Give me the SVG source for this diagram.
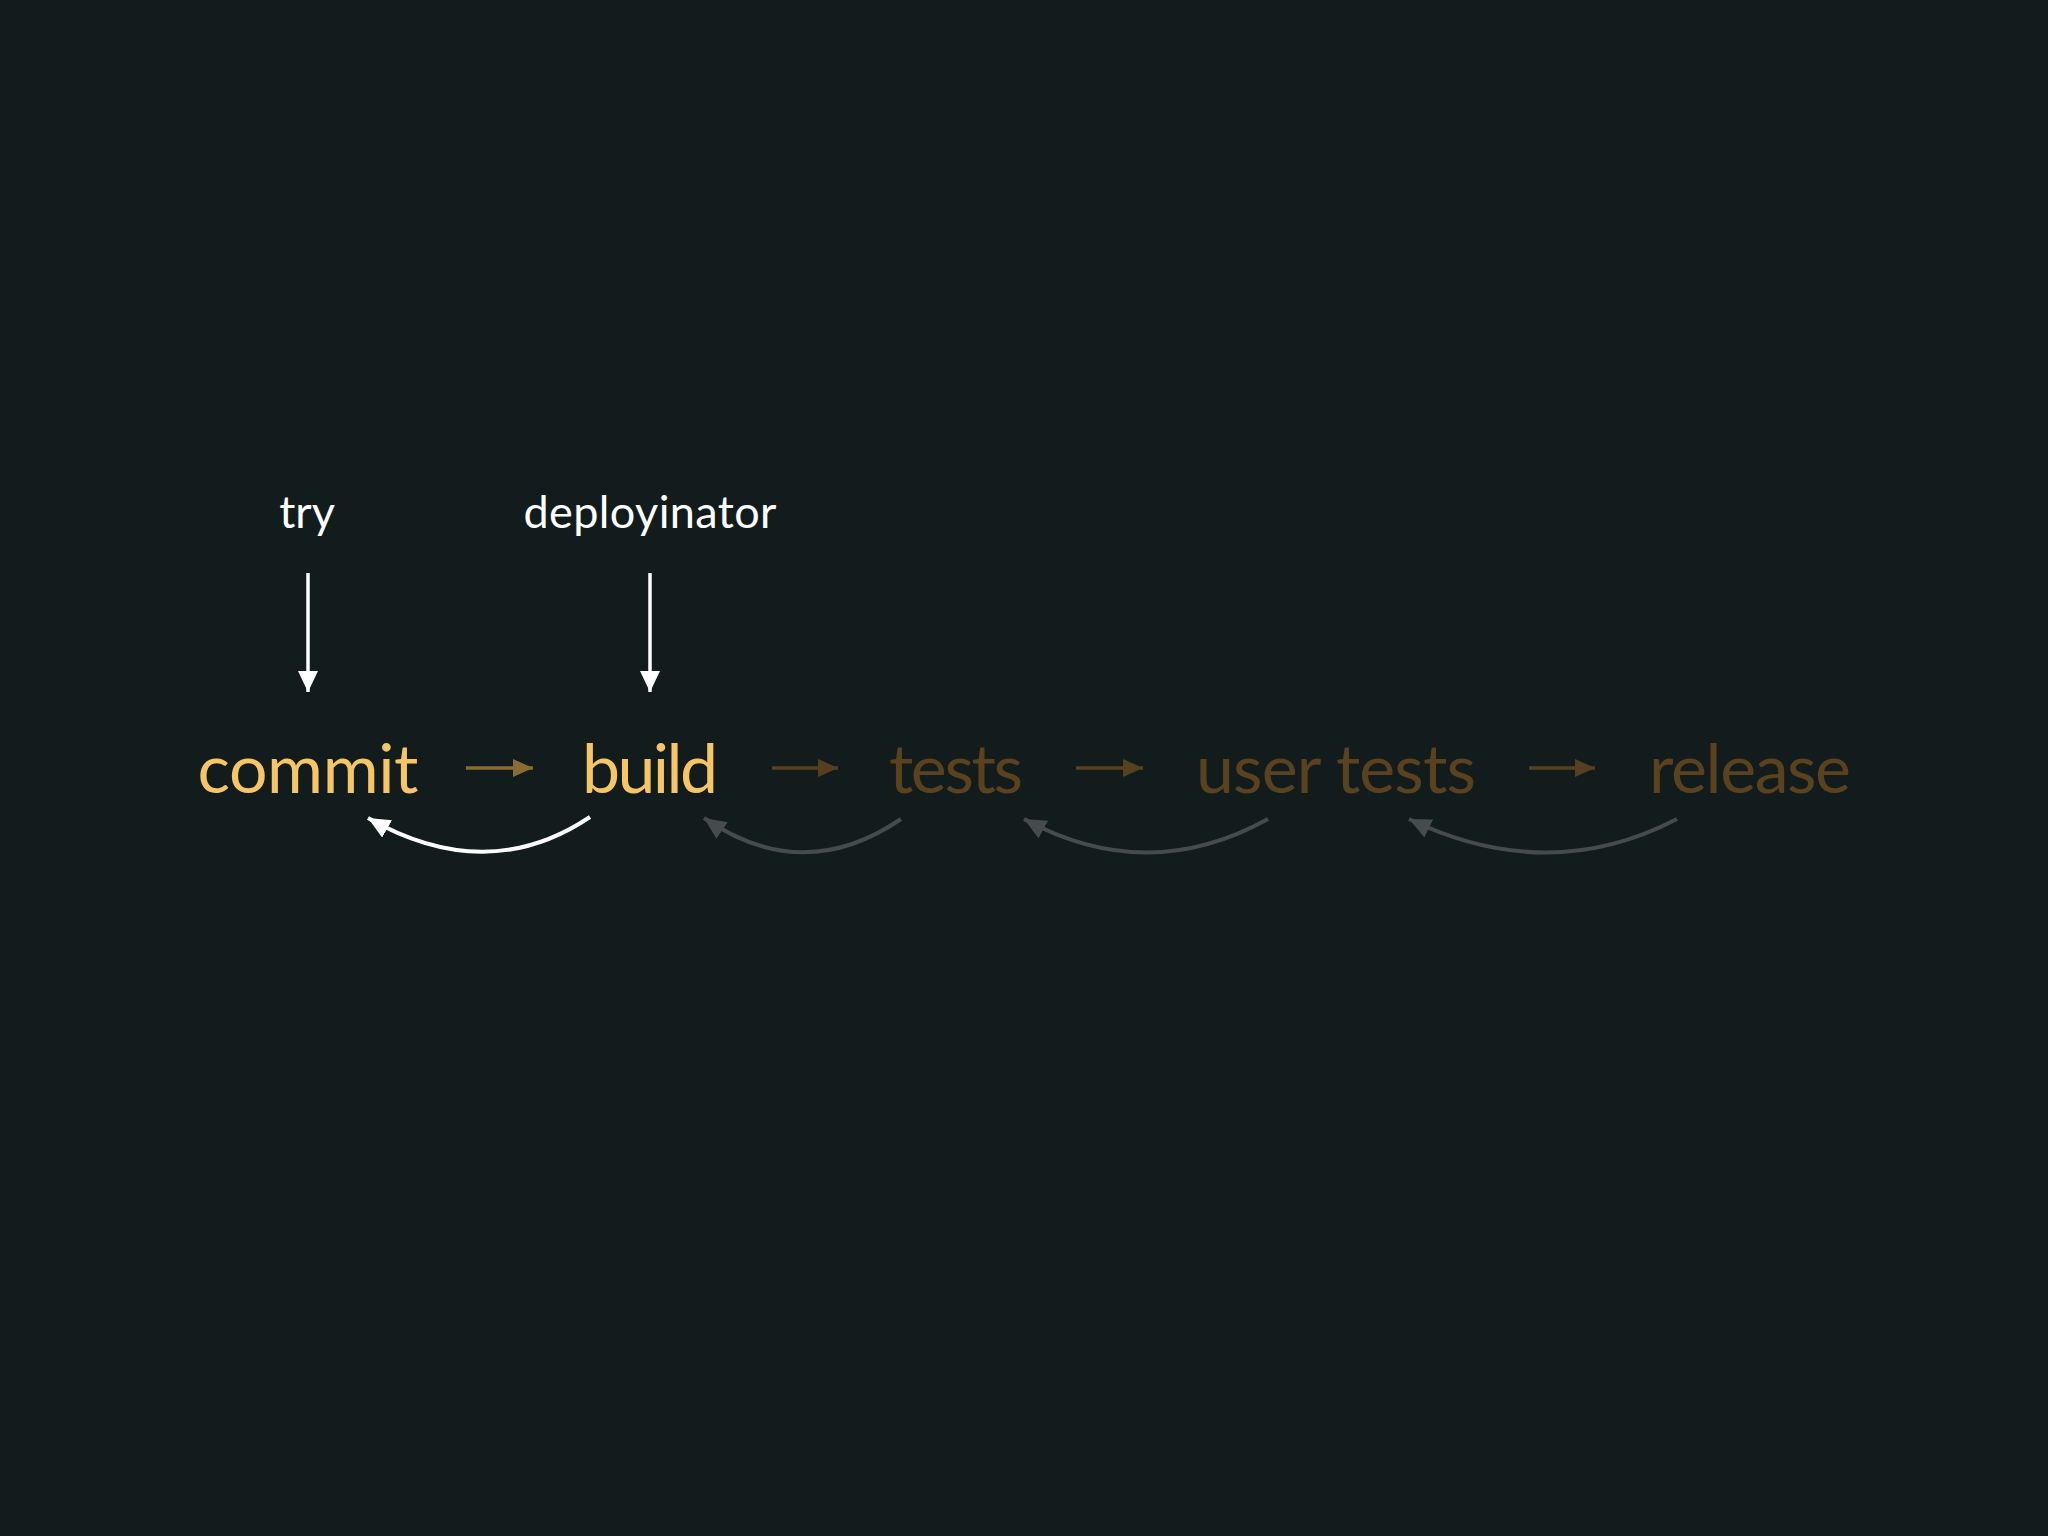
<svg xmlns="http://www.w3.org/2000/svg" width="2048" height="1536" viewBox="0 0 2048 1536">
<style>
.lbl{font-family:Lato,"Noto Sans","Liberation Sans",sans-serif;fill:#ffffff;font-size:45px;text-anchor:middle}
.stage{font-family:Lato,"Noto Sans","Liberation Sans",sans-serif;font-size:68px;text-anchor:middle}
.on{fill:#f5c566}
.off{fill:#5a421f}
.down{stroke:#ffffff;stroke-width:3.5;fill:none}
.fwd1{stroke:#8a6b31;stroke-width:3.5;fill:none}
.fwd2{stroke:#56401f;stroke-width:3.5;fill:none}
.back1{stroke:#ffffff;stroke-width:4;fill:none}
.back2{stroke:#464b4d;stroke-width:4;fill:none}
</style>
<defs>
<marker id="mDown" markerUnits="userSpaceOnUse" viewBox="0 0 21 20" refX="21" refY="10" markerWidth="21" markerHeight="20" orient="auto"><path d="M0,0 L21,10 L0,20 Z" fill="#ffffff"/></marker>
<marker id="mFwd1" markerUnits="userSpaceOnUse" viewBox="0 0 20 18" refX="20" refY="9" markerWidth="20" markerHeight="18" orient="auto"><path d="M0,0 L20,9 L0,18 Z" fill="#8a6b31"/></marker>
<marker id="mFwd2" markerUnits="userSpaceOnUse" viewBox="0 0 20 18" refX="20" refY="9" markerWidth="20" markerHeight="18" orient="auto"><path d="M0,0 L20,9 L0,18 Z" fill="#56401f"/></marker>
<marker id="mBack1" markerUnits="userSpaceOnUse" viewBox="0 0 22 20" refX="22" refY="10" markerWidth="22" markerHeight="20" orient="auto"><path d="M0,0 L22,10 L0,20 Z" fill="#ffffff"/></marker>
<marker id="mBack2" markerUnits="userSpaceOnUse" viewBox="0 0 22 20" refX="22" refY="10" markerWidth="22" markerHeight="20" orient="auto"><path d="M0,0 L22,10 L0,20 Z" fill="#464b4d"/></marker>
</defs>
<rect width="2048" height="1536" fill="#131c1d"/>

<g id="node-try"><text class="lbl" x="307" y="528">try</text></g>
<g id="node-deployinator"><text class="lbl" x="650" y="528" textLength="253">deployinator</text></g>
<g id="node-commit"><text class="stage on" x="308" y="793" textLength="221">commit</text></g>
<g id="node-build"><text class="stage on" x="650" y="793" textLength="136">build</text></g>
<g id="node-tests"><text class="stage off" x="956" y="793" textLength="134">tests</text></g>
<g id="node-user-tests"><text class="stage off" x="1336" y="793" textLength="280">user tests</text></g>
<g id="node-release"><text class="stage off" x="1750" y="793" textLength="202">release</text></g>

<g id="connectors">
<line class="down" x1="308" y1="573" x2="308" y2="692" marker-end="url(#mDown)"/>
<line class="down" x1="650" y1="573" x2="650" y2="692" marker-end="url(#mDown)"/>
<line class="fwd1" x1="466" y1="768" x2="533" y2="768" marker-end="url(#mFwd1)"/>
<line class="fwd2" x1="772" y1="768" x2="838" y2="768" marker-end="url(#mFwd2)"/>
<line class="fwd2" x1="1076" y1="768" x2="1143" y2="768" marker-end="url(#mFwd2)"/>
<line class="fwd2" x1="1529" y1="768" x2="1595" y2="768" marker-end="url(#mFwd2)"/>
<path class="back1" d="M590,817 Q487,886 368,818" marker-end="url(#mBack1)"/>
<path class="back2" d="M901,819 Q803,886 704,818" marker-end="url(#mBack2)"/>
<path class="back2" d="M1268,819 Q1147,886 1024,819" marker-end="url(#mBack2)"/>
<path class="back2" d="M1677,819 Q1548,886 1409,819" marker-end="url(#mBack2)"/>
</g>
</svg>
